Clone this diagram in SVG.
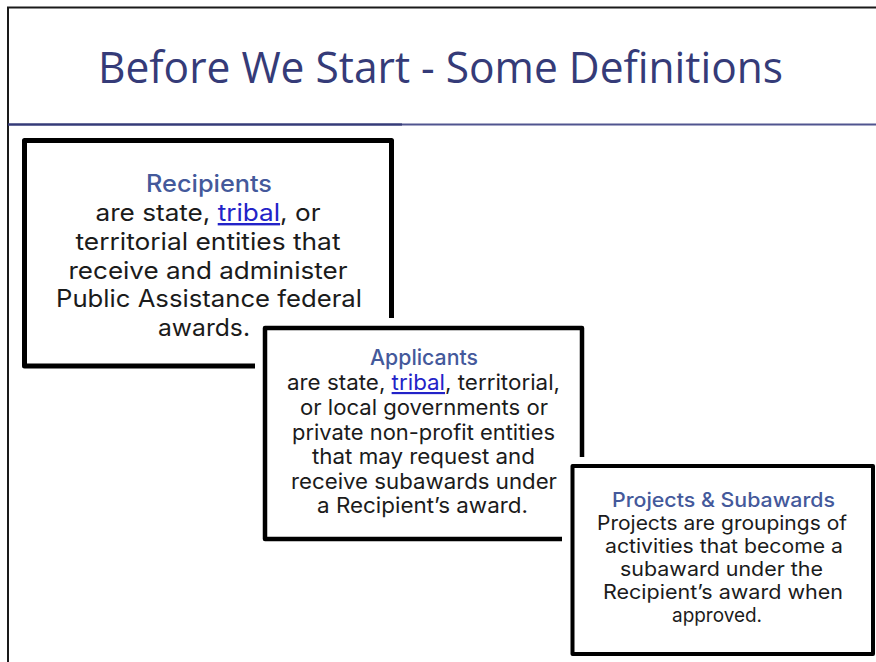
<svg xmlns="http://www.w3.org/2000/svg" width="876" height="662" viewBox="0 0 876 662">
  <style>
    .frame { fill: none; stroke: #1a1a1a; stroke-width: 2; }
    .box { fill: #ffffff; stroke: #000000; stroke-linejoin: round; }
    .pad { fill: #ffffff; stroke: none; }
    .title { font-family: "Open Sans", "Noto Sans", sans-serif; font-size: 43px; fill: #353b78; }
    .head { font-family: Inter, "Noto Sans", sans-serif; font-weight: 500; fill: #44599b; text-anchor: middle; }
    .body { font-family: Inter, "Noto Sans", sans-serif; fill: #1b1b1b; text-anchor: middle; }
    .link { fill: #2323c8; text-decoration: underline; }
    .b1 { font-size: 24px; }
    .b2 { font-size: 21.5px; }
    .b3 { font-size: 20px; }
  </style>
  <rect x="0" y="0" width="876" height="662" fill="#ffffff"/>
  <g id="frame">
    <path class="frame" d="M8 680 V7.5 H890"/>
    <line x1="8" y1="124.5" x2="402" y2="124.5" stroke="#353b78" stroke-width="2.5"/>
    <line x1="402" y1="124.5" x2="876" y2="124.5" stroke="#50558f" stroke-width="2"/>
  </g>
  <g id="title">
    <text class="title" x="98" y="83" textLength="685" lengthAdjust="spacingAndGlyphs">Before We Start - Some Definitions</text>
  </g>
  <g id="recipients">
    <rect class="box" x="24.5" y="140.5" width="367" height="225.5" stroke-width="5"/>
    <text class="head b1" x="209" y="192" textLength="126" lengthAdjust="spacingAndGlyphs">Recipients</text>
    <text class="body b1" x="208" y="221" textLength="225" lengthAdjust="spacingAndGlyphs">are state, <tspan class="link">tribal</tspan>, or</text>
    <text class="body b1" x="208" y="250" textLength="265" lengthAdjust="spacingAndGlyphs">territorial entities that</text>
    <text class="body b1" x="208" y="278.5" textLength="279" lengthAdjust="spacingAndGlyphs">receive and administer</text>
    <text class="body b1" x="209" y="307" textLength="306" lengthAdjust="spacingAndGlyphs">Public Assistance federal</text>
    <text class="body b1" x="204" y="335.5" textLength="92" lengthAdjust="spacingAndGlyphs">awards.</text>
  </g>
  <g id="applicants">
    <rect class="pad" x="255" y="318" width="337" height="231"/>
    <rect class="box" x="265" y="328" width="317" height="211" stroke-width="4.5"/>
    <text class="head b2" x="424" y="365" textLength="108" lengthAdjust="spacingAndGlyphs">Applicants</text>
    <text class="body b2" x="423.5" y="390" textLength="273" lengthAdjust="spacingAndGlyphs">are state, <tspan class="link">tribal</tspan>, territorial,</text>
    <text class="body b2" x="424" y="414.5" textLength="248" lengthAdjust="spacingAndGlyphs">or local governments or</text>
    <text class="body b2" x="423.5" y="439.5" textLength="263" lengthAdjust="spacingAndGlyphs">private non-profit entities</text>
    <text class="body b2" x="423.5" y="464" textLength="223" lengthAdjust="spacingAndGlyphs">that may request and</text>
    <text class="body b2" x="424" y="488.5" textLength="266" lengthAdjust="spacingAndGlyphs">receive subawards under</text>
    <text class="body b2" x="422.5" y="513" textLength="211" lengthAdjust="spacingAndGlyphs">a Recipient’s award.</text>
  </g>
  <g id="projects">
    <rect class="pad" x="562" y="457" width="314" height="205"/>
    <rect class="box" x="572.5" y="466" width="300.5" height="188" stroke-width="4"/>
    <text class="head b3" x="723.5" y="507" textLength="223" lengthAdjust="spacingAndGlyphs">Projects &amp; Subawards</text>
    <text class="body b3" x="722" y="530" textLength="250" lengthAdjust="spacingAndGlyphs">Projects are groupings of</text>
    <text class="body b3" x="724" y="553" textLength="238" lengthAdjust="spacingAndGlyphs">activities that become a</text>
    <text class="body b3" x="721.5" y="576" textLength="203" lengthAdjust="spacingAndGlyphs">subaward under the</text>
    <text class="body b3" x="723" y="599" textLength="240" lengthAdjust="spacingAndGlyphs">Recipient’s award when</text>
    <text class="body b3" x="717" y="622" textLength="90" lengthAdjust="spacingAndGlyphs">approved.</text>
  </g>
  <g id="connectors"/>
</svg>
